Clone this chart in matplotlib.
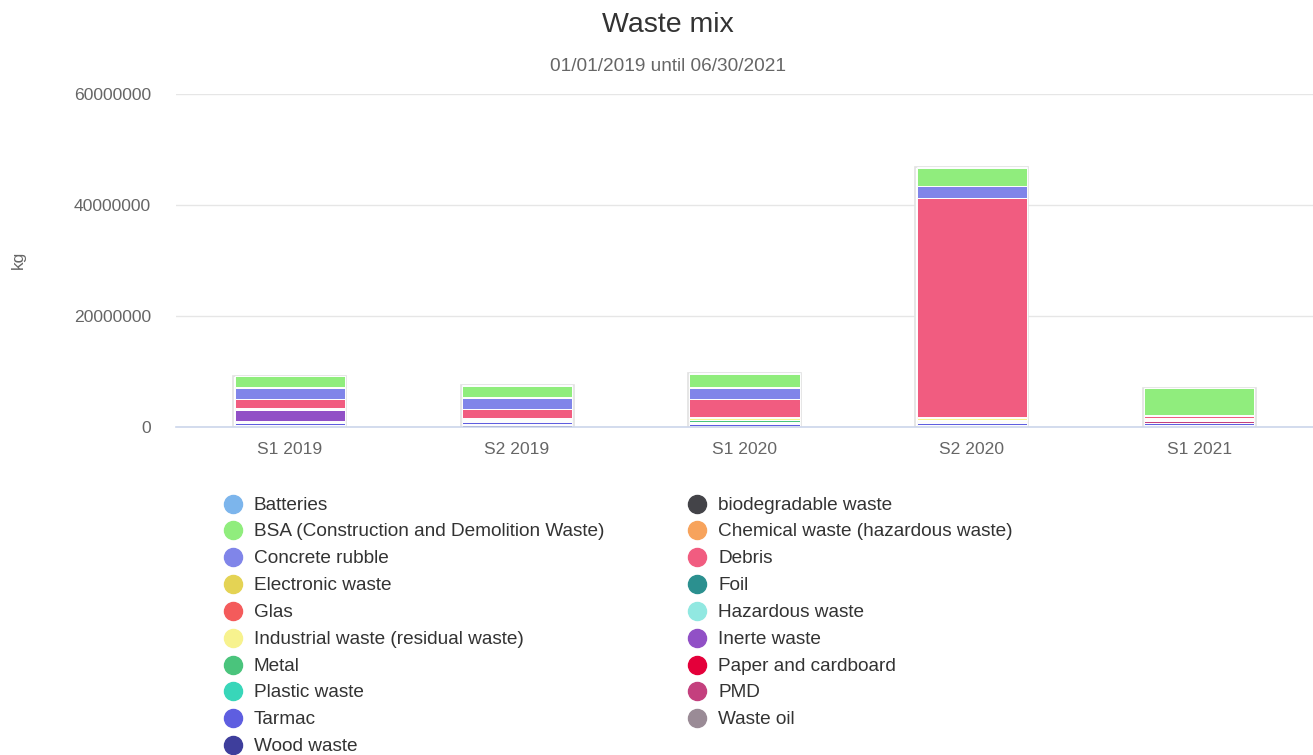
import matplotlib
matplotlib.use("Agg")
import matplotlib.pyplot as plt
import numpy as np

plt.rcParams['font.family'] = ['Liberation Sans', 'DejaVu Sans']

# Half-year periods
periods = ["S1 2019", "S2 2019", "S1 2020", "S2 2020", "S1 2021"]

# Waste quantities per period, in kg (series listed in legend order)
batteries      = [50000, 50000, 50000, 50000, 20000]
biodegradable  = [0, 0, 0, 0, 0]
bsa            = [2100000, 2050000, 2400000, 3300000, 4800000]
chemical       = [100000, 150000, 100000, 100000, 50000]
concrete       = [1950000, 1950000, 2100000, 2100000, 150000]
debris         = [1600000, 1700000, 3200000, 39400000, 400000]
electronic     = [30000, 20000, 20000, 30000, 20000]
foil           = [20000, 20000, 20000, 20000, 20000]
glas           = [100000, 20000, 100000, 100000, 30000]
hazardous      = [20000, 20000, 50000, 50000, 20000]
industrial     = [150000, 20000, 300000, 300000, 200000]
inerte         = [2000000, 30000, 50000, 50000, 50000]
metal          = [200000, 200000, 300000, 300000, 100000]
paper          = [50000, 50000, 100000, 100000, 50000]
plastic        = [150000, 200000, 150000, 150000, 50000]
pmd            = [100000, 100000, 100000, 100000, 350000]
tarmac         = [350000, 350000, 350000, 350000, 400000]
waste_oil      = [50000, 200000, 50000, 50000, 100000]
wood           = [250000, 350000, 200000, 250000, 200000]

series_names = [
    "Batteries", "biodegradable waste", "BSA (Construction and Demolition Waste)",
    "Chemical waste (hazardous waste)", "Concrete rubble", "Debris",
    "Electronic waste", "Foil", "Glas", "Hazardous waste",
    "Industrial waste (residual waste)", "Inerte waste", "Metal",
    "Paper and cardboard", "Plastic waste", "PMD", "Tarmac", "Waste oil",
    "Wood waste",
]
series_values = [
    batteries, biodegradable, bsa, chemical, concrete, debris, electronic,
    foil, glas, hazardous, industrial, inerte, metal, paper, plastic, pmd,
    tarmac, waste_oil, wood,
]
series_colors = [
    "#7cb5ec", "#434348", "#90ed7d", "#f7a35c", "#8085e9", "#f15c80",
    "#e4d354", "#2b908f", "#f45b5b", "#91e8e1", "#f7f28e", "#9150c6",
    "#4ac47c", "#e4003a", "#38d6b9", "#c4407e", "#5e5ee0", "#9a8b96",
    "#3e3e9c",
]

yticks = [0, 20000000, 40000000, 60000000]

W, H = 1313, 755
fig = plt.figure(figsize=(W / 100, H / 100), dpi=100)
ax = fig.add_axes([176 / W, 1 - 427 / H, 1137 / W, 333 / H])

x = np.arange(len(periods))
bar_w = 0.485

totals = np.sum(np.array(series_values, dtype=float), axis=0)
# faint outline around each stack
ax.bar(x, totals, width=bar_w + 0.012, color="white", edgecolor="#e2e2e2",
       linewidth=1.2, zorder=2)

bottom = np.zeros(len(periods))
# Highcharts-style stacking: first series sits on top, last at the bottom
for name, vals, col in reversed(list(zip(series_names, series_values, series_colors))):
    v = np.array(vals, dtype=float)
    ax.bar(x, v, bottom=bottom, width=bar_w, color=col, edgecolor="white",
           linewidth=0.7, zorder=3)
    bottom += v

ax.set_xlim(-0.5, len(periods) - 0.5)
ax.set_ylim(0, 60000000)
ax.set_yticks(yticks)
ax.set_yticklabels([str(t) for t in yticks])
ax.set_xticks(x)
ax.set_xticklabels(periods)
ax.tick_params(axis="both", length=0, labelsize=12.6, labelcolor="#666666")
ax.tick_params(axis="y", pad=18)
ax.tick_params(axis="x", pad=11)
ax.grid(axis="y", color="#e6e6e6", linewidth=1)
ax.set_axisbelow(True)
for side in ("top", "right", "left"):
    ax.spines[side].set_visible(False)
ax.spines["bottom"].set_color("#ccd6eb")
ax.spines["bottom"].set_linewidth(1.2)
ax.spines["bottom"].set_zorder(4)

fig.text(18 / W, 1 - 260 / H, "kg", rotation=90, ha="center", va="center",
         fontsize=12.6, color="#666666")
fig.text(668 / W, 1 - 24.5 / H, "Waste mix", ha="center", va="center",
         fontsize=20.5, color="#333333")
fig.text(668 / W, 1 - 66.5 / H, "01/01/2019 until 06/30/2021", ha="center",
         va="center", fontsize=13.7, color="#666666")

# Legend laid out row by row in two columns
col_circle = [233, 697]
col_text = [254, 718]
row0, row_step = 503.5, 26.85
for i, (name, col) in enumerate(zip(series_names, series_colors)):
    c = i % 2
    r = i // 2
    yy = 1 - (row0 + r * row_step) / H
    fig.add_artist(plt.Line2D([col_circle[c] / W], [yy], marker="o",
                              markersize=13, color=col, linestyle="none",
                              transform=fig.transFigure))
    fig.text(col_text[c] / W, yy - 1.5 / H, name, ha="left", va="center",
             fontsize=13.7, color="#333333")

fig.savefig("out.png", dpi=100)
